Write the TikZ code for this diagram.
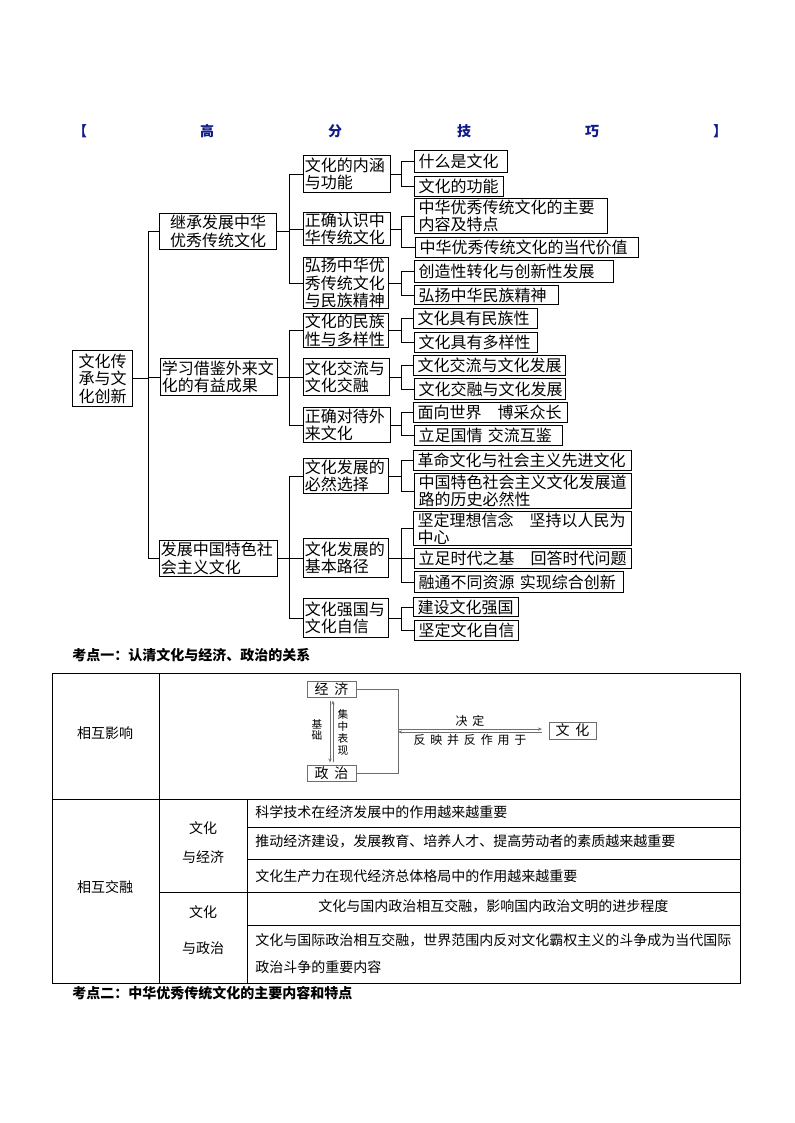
\documentclass[tikz,border=0pt]{standalone}
\usepackage{fontspec}
\setmainfont{Noto Sans CJK SC}
\newfontfamily\widefont[LetterSpace=40]{Noto Sans CJK SC}
\usetikzlibrary{arrows.meta, positioning}
\definecolor{TipNavy}{HTML}{101C8A}
\definecolor{DiagGray}{HTML}{6E6E6E}
\definecolor{InkBlack}{HTML}{000000}
\tikzset{
    % Default text for all nodes
    every node/.style={font=\fontsize{12}{13}\selectfont},
    % Mind map box style
    mapbox/.style={
        rectangle,
        draw=InkBlack,
        line width=0.8pt,
        anchor=north west,
        inner xsep=1pt,
        inner ysep=0pt,
        align=left
    },
    % Leaf box style
    leaf/.style={
        mapbox,
        inner xsep=3pt
    },
    % Tree connector style
    branch/.style={
        draw=InkBlack,
        line width=0.6pt
    },
    % Title letter style
    titlechar/.style={
        font=\fontsize{10.5}{12}\selectfont\bfseries,
        text=TipNavy,
        inner sep=0pt
    },
    % Heading style
    heading/.style={
        font=\fontsize{10.5}{12}\selectfont\bfseries,
        anchor=west,
        inner sep=0pt
    },
    % Table rule style
    grid/.style={
        draw=InkBlack,
        line width=0.7pt
    },
    % Table text style
    cell/.style={
        font=\fontsize{10.5}{20}\selectfont,
        inner sep=0pt
    },
    % Small diagram box
    diag/.style={
        rectangle,
        draw=DiagGray,
        line width=0.6pt,
        minimum width=36.75pt,
        minimum height=12pt,
        inner sep=0pt,
        font=\widefont\fontsize{10.5}{11}\selectfont
    },
    % Diagram line
    diagline/.style={
        draw=DiagGray,
        line width=0.5pt
    },
    % Diagram arrow
    darrow/.style={
        diagline,
        -{Stealth[length=3pt, width=2.4pt]}
    },
    % Diagram label
    diaglabel/.style={
        font=\widefont\fontsize{9}{10}\selectfont,
        inner sep=0pt
    },
    % Stacked label
    vlabel/.style={
        font=\fontsize{8}{8.2}\selectfont,
        align=center,
        inner sep=0pt
    }
}

\begin{document}
\begin{tikzpicture}[x=0.75pt, y=-0.75pt]
    \useasboundingbox (0,0) rectangle (794,1123);

    % Title
    \node (tl) [titlechar] at (80,131) {【};
    \node (t1) [titlechar] at (207,131) {高};
    \node (t2) [titlechar] at (335,131) {分};
    \node (t3) [titlechar] at (464,131) {技};
    \node (t4) [titlechar] at (592,131) {巧};
    \node (tr) [titlechar] at (720,131) {】};

    % Root and main branches
    \node (root) [mapbox, align=center, text width=43pt, minimum height=42pt] at (72,350) {文化传\\承与文\\化创新};
    \node (inherit) [mapbox, align=center, text width=85.75pt, minimum height=27pt] at (159,213) {继承发展中华\\优秀传统文化};
    \node (learn) [mapbox, text width=85.75pt, minimum height=27.75pt] at (160,358) {学习借鉴外来文\\化的有益成果};
    \node (develop) [mapbox, text width=86.5pt, minimum height=27pt] at (159,540) {发展中国特色社\\会主义文化};

    % Inherit branch
    \node (meaning) [mapbox, text width=63.25pt, minimum height=27.75pt] at (303,155) {文化的内涵\\与功能};
    \node (know) [mapbox, text width=63.25pt, minimum height=24.75pt] at (303,212) {正确认识中\\华传统文化};
    \node (carry) [mapbox, text width=61.75pt, minimum height=38.25pt] at (303,257) {弘扬中华优\\秀传统文化\\与民族精神};
    \node (whatis) [leaf, text width=63.75pt, minimum height=16.5pt] at (414,150) {什么是文化};
    \node (function) [leaf, text width=60.75pt, minimum height=15pt] at (414,176) {文化的功能};
    \node (content) [leaf, text width=138.75pt, minimum height=26.25pt] at (414,198) {中华优秀传统文化的主要\\内容及特点};
    \node (value) [leaf, text width=161.25pt, minimum height=15pt] at (415,237) {中华优秀传统文化的当代价值};
    \node (transform) [leaf, text width=143.25pt, minimum height=16.5pt] at (414,260) {创造性转化与创新性发展};
    \node (spirit) [leaf, text width=102pt, minimum height=14.25pt] at (414,285) {弘扬中华民族精神};

    % Learn branch
    \node (nation) [mapbox, text width=61.75pt, minimum height=25.5pt] at (303,313) {文化的民族\\性与多样性};
    \node (exchange) [mapbox, text width=62.5pt, minimum height=27.75pt] at (303,358) {文化交流与\\文化交融};
    \node (treat) [mapbox, text width=63.25pt, minimum height=26.25pt] at (303,407) {正确对待外\\来文化};
    \node (national) [leaf, text width=87pt, minimum height=15pt] at (413,308) {文化具有民族性};
    \node (diverse) [leaf, text width=86.25pt, minimum height=15pt] at (414,332) {文化具有多样性};
    \node (flowdev) [leaf, text width=108pt, minimum height=15pt] at (413,355) {文化交流与文化发展};
    \node (blenddev) [leaf, text width=107.25pt, minimum height=15.75pt] at (414,378) {文化交融与文化发展};
    \node (world) [leaf, text width=109.5pt, minimum height=15pt] at (413,402) {面向世界　博采众长};
    \node (china) [leaf, text width=105pt, minimum height=15pt] at (414,425) {立足国情 交流互鉴};

    % Develop branch
    \node (choice) [mapbox, text width=61.75pt, minimum height=26.25pt] at (303,458) {文化发展的\\必然选择};
    \node (path) [mapbox, text width=61.75pt, minimum height=29.25pt] at (303,538) {文化发展的\\基本路径};
    \node (confidence) [mapbox, text width=61.75pt, minimum height=29.25pt] at (303,598) {文化强国与\\文化自信};
    \node (revolution) [leaf, text width=157.5pt, minimum height=15pt] at (413,450) {革命文化与社会主义先进文化};
    \node (road) [leaf, text width=156.75pt, minimum height=26.25pt] at (414,473) {中国特色社会主义文化发展道\\路的历史必然性};
    \node (ideal) [leaf, text width=157.5pt, minimum height=25.5pt] at (413,511) {坚定理想信念　坚持以人民为\\中心};
    \node (era) [leaf, text width=156.75pt, minimum height=15pt] at (414,548) {立足时代之基　回答时代问题};
    \node (merge) [leaf, text width=150.75pt, minimum height=15.75pt] at (414,571) {融通不同资源 实现综合创新};
    \node (build) [leaf, text width=72.75pt, minimum height=14.25pt] at (413,597) {建设文化强国};
    \node (confident) [leaf, text width=72pt, minimum height=15pt] at (414,620) {坚定文化自信};

    % Junctions
    \coordinate (jroot) at (148,0 |- root.east);
    \coordinate (jinherit) at (289,0 |- inherit.east);
    \coordinate (jlearn) at (289,0 |- learn.east);
    \coordinate (jdevelop) at (289,0 |- develop.east);
    \coordinate (jmeaning) at (401,0 |- meaning.east);
    \coordinate (jknow) at (401,0 |- know.east);
    \coordinate (jcarry) at (401,0 |- carry.east);
    \coordinate (jnation) at (401,0 |- nation.east);
    \coordinate (jexchange) at (401,0 |- exchange.east);
    \coordinate (jtreat) at (401,0 |- treat.east);
    \coordinate (jchoice) at (401,0 |- choice.east);
    \coordinate (jpath) at (401,0 |- path.east);
    \coordinate (jconfidence) at (401,0 |- confidence.east);

    % Connectors
    \draw [branch] (root.east) -- (jroot);
    \draw [branch] (inherit.west) -| (jroot);
    \draw [branch] (learn.west) -| (jroot);
    \draw [branch] (develop.west) -| (jroot);

    \draw [branch] (inherit.east) -- (jinherit);
    \draw [branch] (meaning.west) -| (jinherit);
    \draw [branch] (know.west) -| (jinherit);
    \draw [branch] (carry.west) -| (jinherit);

    \draw [branch] (learn.east) -- (jlearn);
    \draw [branch] (nation.west) -| (jlearn);
    \draw [branch] (exchange.west) -| (jlearn);
    \draw [branch] (treat.west) -| (jlearn);

    \draw [branch] (develop.east) -- (jdevelop);
    \draw [branch] (choice.west) -| (jdevelop);
    \draw [branch] (path.west) -| (jdevelop);
    \draw [branch] (confidence.west) -| (jdevelop);

    \draw [branch] (meaning.east) -- (jmeaning);
    \draw [branch] (whatis.west) -| (jmeaning);
    \draw [branch] (function.west) -| (jmeaning);
    \draw [branch] (know.east) -- (jknow);
    \draw [branch] (content.west) -| (jknow);
    \draw [branch] (value.west) -| (jknow);
    \draw [branch] (carry.east) -- (jcarry);
    \draw [branch] (transform.west) -| (jcarry);
    \draw [branch] (spirit.west) -| (jcarry);

    \draw [branch] (nation.east) -- (jnation);
    \draw [branch] (national.west) -| (jnation);
    \draw [branch] (diverse.west) -| (jnation);
    \draw [branch] (exchange.east) -- (jexchange);
    \draw [branch] (flowdev.west) -| (jexchange);
    \draw [branch] (blenddev.west) -| (jexchange);
    \draw [branch] (treat.east) -- (jtreat);
    \draw [branch] (world.west) -| (jtreat);
    \draw [branch] (china.west) -| (jtreat);

    \draw [branch] (choice.east) -- (jchoice);
    \draw [branch] (revolution.west) -| (jchoice);
    \draw [branch] (road.west) -| (jchoice);
    \draw [branch] (path.east) -- (jpath);
    \draw [branch] (ideal.west) -| (jpath);
    \draw [branch] (era.west) -| (jpath);
    \draw [branch] (merge.west) -| (jpath);
    \draw [branch] (confidence.east) -- (jconfidence);
    \draw [branch] (build.west) -| (jconfidence);
    \draw [branch] (confident.west) -| (jconfidence);

    % Point one
    \node (point1) [heading] at (72,655) {考点一：认清文化与经济、政治的关系};

    % Table rules
    \draw [grid] (52,673) rectangle (740,983);
    \draw [grid] (159,673) -- (159,983);
    \draw [grid] (52,799) -- (740,799);
    \draw [grid] (247,799) -- (247,983);
    \draw [grid] (247,827) -- (740,827);
    \draw [grid] (247,859) -- (740,859);
    \draw [grid] (159,892) -- (740,892);
    \draw [grid] (247,925) -- (740,925);

    % Table text
    \node (mutual) [cell] at (105,733) {相互影响};
    \node (blend) [cell] at (105,887) {相互交融};
    \node (cecon) [cell, align=center] at (203,842.5) {文化\\[1.75pt]与经济};
    \node (cpoli) [cell, align=center] at (203,930) {文化\\[7pt]与政治};
    \node (row1) [cell, anchor=west] at (255,812) {科学技术在经济发展中的作用越来越重要};
    \node (row2) [cell, anchor=west] at (255,841) {推动经济建设，发展教育、培养人才、提高劳动者的素质越来越重要};
    \node (row3) [cell, anchor=west] at (255,876) {文化生产力在现代经济总体格局中的作用越来越重要};
    \node (row4) [cell, anchor=west] at (318,906) {文化与国内政治相互交融，影响国内政治文明的进步程度};
    \node (row5) [cell, anchor=west, align=left] at (255,953.5) {文化与国际政治相互交融，世界范围内反对文化霸权主义的斗争成为当代国际\\政治斗争的重要内容};

    % Economy, politics and culture
    \node (econ) [diag] at (331.5,689.5) {经济};
    \node (poli) [diag] at (331.5,773.5) {政治};
    \node (cult) [diag, minimum width=35.25pt, minimum height=12.75pt] at (572.5,730.5) {文化};
    \coordinate (fork) at (398,730.5);
    \coordinate (mid) at (470,730.5);
    \draw [diagline] (econ.east) -| (fork);
    \draw [diagline] (poli.east) -| (fork);
    \draw [darrow, shorten >=5pt] ([yshift=1.1pt]fork) -- ([yshift=1.1pt]cult.west);
    \draw [darrow, shorten <=5pt] ([yshift=-1.1pt]cult.west) -- ([yshift=-1.1pt]fork);
    \draw [darrow, shorten <=2pt, shorten >=2pt] ([xshift=-1.1pt]econ.south) -- ([xshift=-1.1pt]poli.north);
    \draw [darrow, shorten <=2pt, shorten >=2pt] ([xshift=1.1pt]poli.north) -- ([xshift=1.1pt]econ.south);
    \node (decide) [diaglabel, above=3pt of mid] {决定};
    \node (reflect) [diaglabel, below=3pt of mid] {反映并反作用于};
    \node (basis) [vlabel] at (317,730) {基\\础};
    \node (focus) [vlabel, font=\fontsize{8}{8.8}\selectfont] at (343,732.5) {集\\中\\表\\现};

    % Point two
    \node (point2) [heading] at (72,993) {考点二：中华优秀传统文化的主要内容和特点};
\end{tikzpicture}
\end{document}
